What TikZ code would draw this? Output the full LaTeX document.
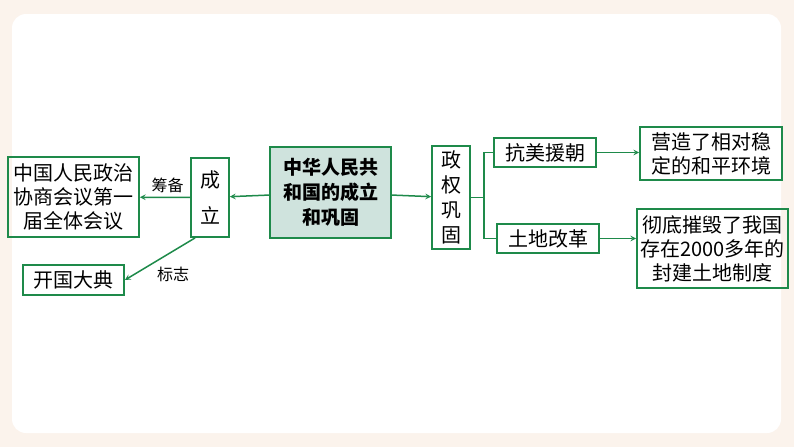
\documentclass[tikz,border=0pt]{standalone}
\usepackage{fontspec}
\setmainfont{Noto Sans CJK SC}
\usetikzlibrary{positioning}
\definecolor{lineg}{HTML}{1E8A4A}
\definecolor{panel}{HTML}{FBF3EC}
\definecolor{keyfill}{HTML}{CFE3DD}
\tikzstyle{Box}=[rectangle, draw=lineg, line width=1.8pt, inner sep=2pt, align=center, font=\fontsize{20}{24}\selectfont]
\tikzstyle{Link}=[draw=lineg, line width=1.5pt, ->, >=stealth]
\tikzstyle{Tag}=[black, font=\fontsize{16}{18}\selectfont]
\begin{document}
\begin{tikzpicture}[x=1pt,y=-1pt]
    \fill[panel] (0,0) rectangle (794,447);
    \fill[white, rounded corners=14pt] (12,14) rectangle (781,433);
    \useasboundingbox (0,0) rectangle (794,447);

    \path
    (330.5,192.5) node[Box, fill=keyfill, minimum width=121, minimum height=91, font=\fontsize{19}{25}\selectfont\bfseries] (core) {中华人民共\\和国的成立\\和巩固}
    (210,197.5) node[Box, minimum width=38, minimum height=79, font=\fontsize{20}{36}\selectfont] (found) {成\\立}
    (73.5,197) node[Box, minimum width=131, minimum height=80] (cppcc) {中国人民政治\\协商会议第一\\届全体会议}
    (73.5,280) node[Box, minimum width=101, minimum height=30] (ceremony) {开国大典}
    (451,197.5) node[Box, minimum width=38, minimum height=103, font=\fontsize{20}{25}\selectfont] (secure) {政\\权\\巩\\固}
    (545,152.5) node[Box, minimum width=102, minimum height=29] (korea) {抗美援朝}
    (548,238.5) node[Box, minimum width=102, minimum height=29] (land) {土地改革}
    (711,153.5) node[Box, minimum width=142, minimum height=53] (peace) {营造了相对稳\\定的和平环境}
    (712.5,248.5) node[Box, minimum width=151, minimum height=79] (feudal) {彻底摧毁了我国\\存在2000多年的\\封建土地制度};

    \draw[Link] (core) -- (found);
    \draw[Link] (found) -- node[Tag, above, pos=0.45] {筹备} (cppcc);
    \draw[Link] (found.south west) ++(5,0) coordinate (fs) -- node[Tag, below right, pos=0.6] {标志} (ceremony.east);
    \draw[Link] (core) -- (secure);
    \coordinate (fork) at (484,197.5);
    \draw[draw=lineg, line width=1.5pt] (secure) -- (fork) (korea.west) -| (fork) |- (land.west);
    \draw[Link] (korea) -- (peace.west |- korea);
    \draw[Link] (land) -- (feudal.west |- land);
\end{tikzpicture}
\end{document}
